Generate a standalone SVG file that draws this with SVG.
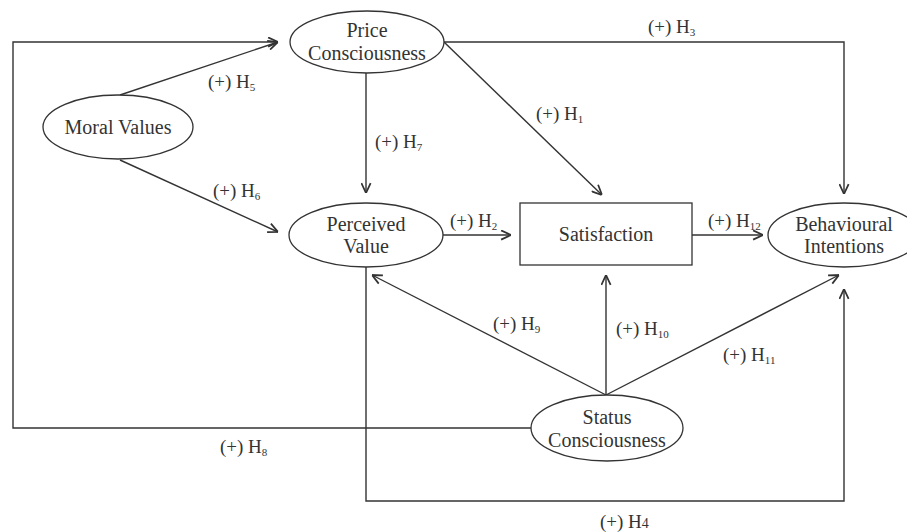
<svg xmlns="http://www.w3.org/2000/svg" width="907" height="532" viewBox="0 0 907 532">
<style>
.node{fill:#fff;stroke:#333;stroke-width:1.3}
.nt{font-family:"Liberation Serif","Times New Roman",serif;font-size:20px;fill:#333;text-anchor:middle}
.lb{font-family:"Liberation Serif","Times New Roman",serif;font-size:19px;fill:#333}
.sub{font-size:11px}
.c{fill:none;stroke:#333;stroke-width:1.4}
</style>
<defs>
<marker id="arr" viewBox="0 0 10 10" refX="10" refY="5" markerWidth="11" markerHeight="11" markerUnits="userSpaceOnUse" orient="auto">
<path d="M1,0.8 L10,5 L1,9.2" fill="none" stroke="#333" stroke-width="1.6"/>
</marker>
</defs>
<g id="connectors">
<path class="c" d="M531,428 H13 V42 H278" marker-end="url(#arr)"/>
<path class="c" d="M120,95 L278,42" marker-end="url(#arr)"/>
<path class="c" d="M120,160 L278,232" marker-end="url(#arr)"/>
<path class="c" d="M366,73 V193" marker-end="url(#arr)"/>
<path class="c" d="M444,42 L602,195" marker-end="url(#arr)"/>
<path class="c" d="M443,42 H844 V194" marker-end="url(#arr)"/>
<path class="c" d="M443,235 H511" marker-end="url(#arr)"/>
<path class="c" d="M692,235 H763" marker-end="url(#arr)"/>
<path class="c" d="M366,267 V501 H844 V289" marker-end="url(#arr)"/>
<path class="c" d="M606,395 L372,275" marker-end="url(#arr)"/>
<path class="c" d="M606,395 V275" marker-end="url(#arr)"/>
<path class="c" d="M606,395 L839,275" marker-end="url(#arr)"/>
</g>
<g id="labels">
<text class="lb" x="208" y="88">(+) H<tspan class="sub" dy="3">5</tspan></text>
<text class="lb" x="213" y="197">(+) H<tspan class="sub" dy="3">6</tspan></text>
<text class="lb" x="375" y="148">(+) H<tspan class="sub" dy="3">7</tspan></text>
<text class="lb" x="648" y="33">(+) H<tspan class="sub" dy="3">3</tspan></text>
<text class="lb" x="536" y="120">(+) H<tspan class="sub" dy="3">1</tspan></text>
<text class="lb" x="450" y="227">(+) H<tspan class="sub" dy="3">2</tspan></text>
<text class="lb" x="708" y="227">(+) H<tspan class="sub" dy="3">12</tspan></text>
<text class="lb" x="493" y="330">(+) H<tspan class="sub" dy="3">9</tspan></text>
<text class="lb" x="616" y="335">(+) H<tspan class="sub" dy="3">10</tspan></text>
<text class="lb" x="723" y="361">(+) H<tspan class="sub" dy="3">11</tspan></text>
<text class="lb" x="220" y="453">(+) H<tspan class="sub" dy="3">8</tspan></text>
<text class="lb" x="600" y="528">(+) H<tspan style="font-size:14px">4</tspan></text>
</g>
<g id="price">
<ellipse class="node" cx="367" cy="42" rx="77" ry="31"/>
<text class="nt" x="367" y="37">Price</text>
<text class="nt" x="367" y="60">Consciousness</text>
</g>
<g id="moral">
<ellipse class="node" cx="118" cy="127" rx="75" ry="32"/>
<text class="nt" x="118" y="134">Moral Values</text>
</g>
<g id="perceived">
<ellipse class="node" cx="366" cy="235" rx="77" ry="32"/>
<text class="nt" x="366" y="231">Perceived</text>
<text class="nt" x="366" y="253">Value</text>
</g>
<g id="satisfaction">
<rect class="node" x="520" y="203" width="172" height="62"/>
<text class="nt" x="606" y="241">Satisfaction</text>
</g>
<g id="behavioural">
<ellipse class="node" cx="844" cy="235" rx="76" ry="32"/>
<text class="nt" x="844" y="231">Behavioural</text>
<text class="nt" x="844" y="253">Intentions</text>
</g>
<g id="status">
<ellipse class="node" cx="607" cy="428" rx="76" ry="33"/>
<text class="nt" x="607" y="424">Status</text>
<text class="nt" x="607" y="447">Consciousness</text>
</g>
</svg>
